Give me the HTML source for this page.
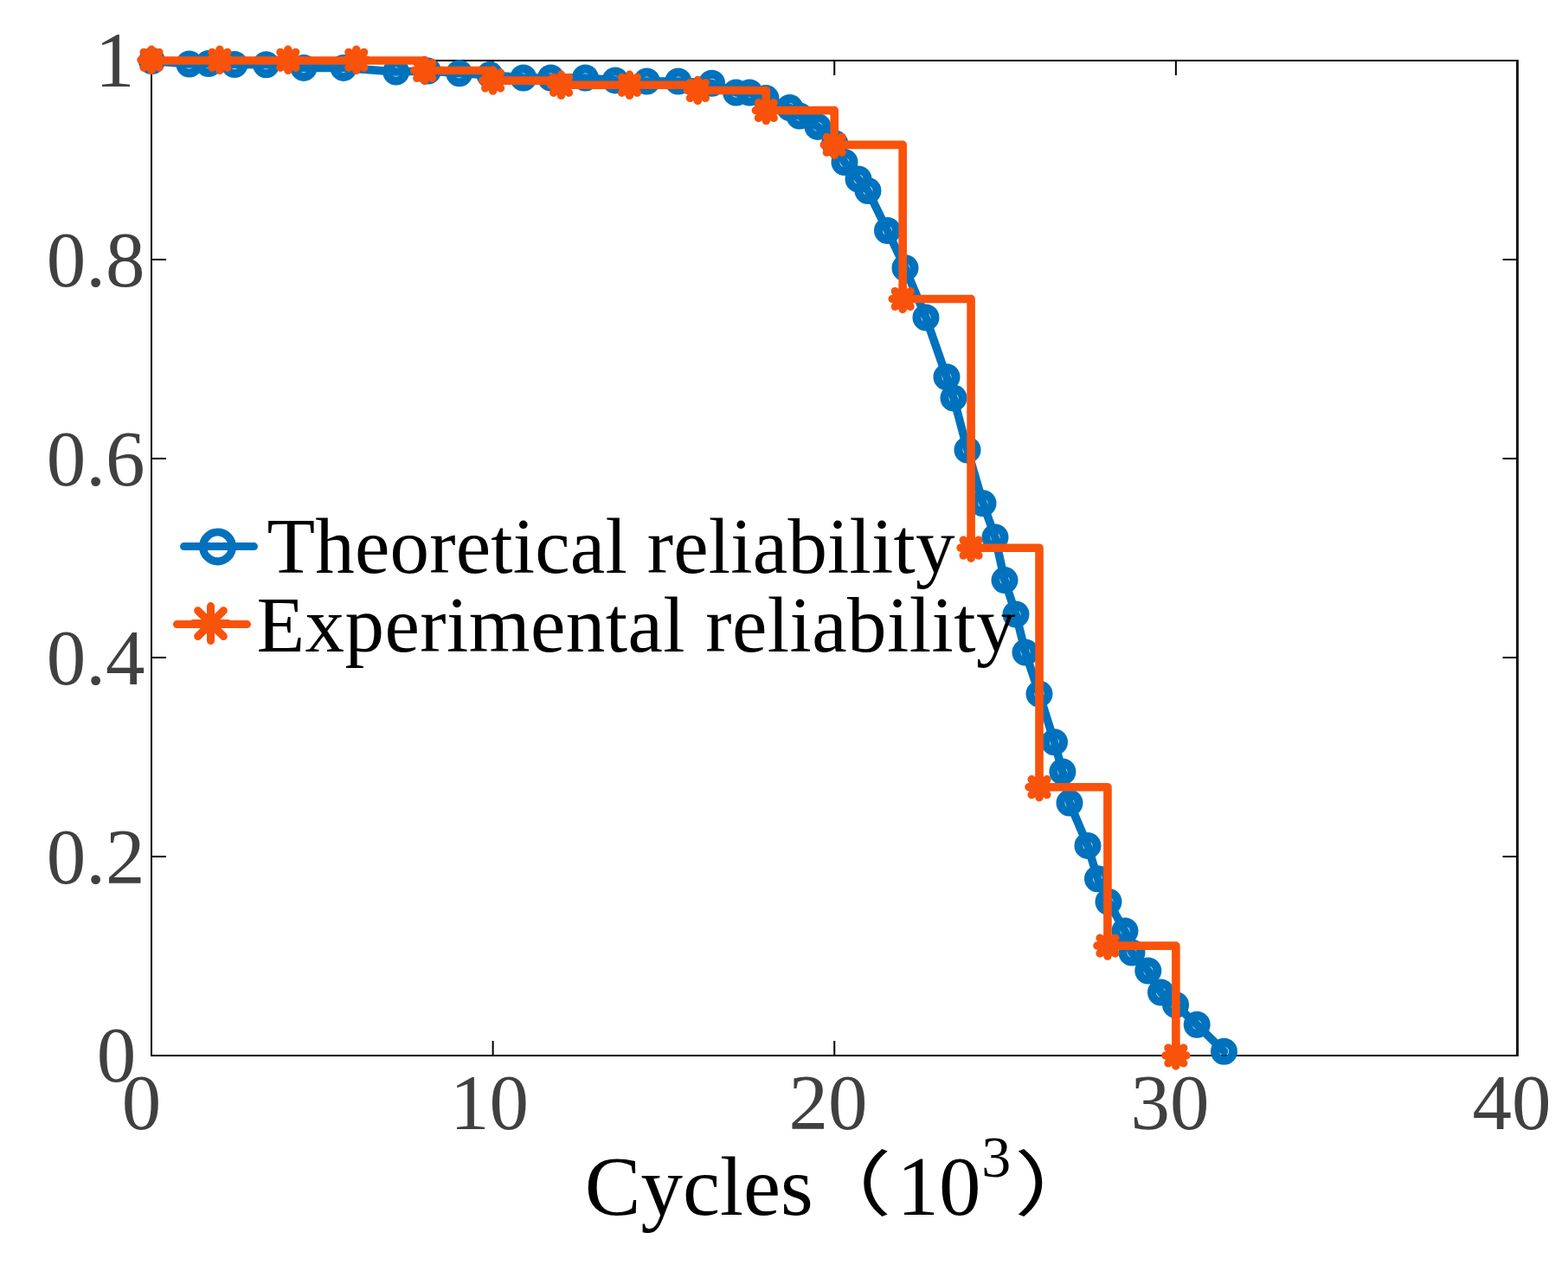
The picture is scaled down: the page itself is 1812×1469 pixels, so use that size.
<!DOCTYPE html>
<html><head><meta charset="utf-8"><title>Reliability</title>
<style>html,body{margin:0;padding:0;background:#fff;overflow:hidden}svg{display:block}</style>
</head><body><svg width="1812" height="1469" viewBox="0 0 1812 1469"><rect x="0" y="0" width="1812" height="1469" fill="#fff"/><path d="M174.0 70.0H1753.5M175.0 69.0V1221.0M174.0 1220.0H1754.5" stroke="#000000" stroke-width="2" fill="none"/><path d="M1753.5 69.0V1221.0" stroke="#1a1a1a" stroke-width="3" fill="none"/><path d="M175.0 990h17M1753.5 990h-17M175.0 760h17M1753.5 760h-17M175.0 530h17M1753.5 530h-17M175.0 300h17M1753.5 300h-17M569.62 1220.0v-17M569.62 70.0v17M964.25 1220.0v-17M964.25 70.0v17M1358.88 1220.0v-17M1358.88 70.0v17" stroke="#000000" stroke-width="2" fill="none"/><polyline points="175.5,70.5 218.8,74 241,73.5 271,74.5 307.6,74.8 351,78.4 397,78.4 457.7,83 494.4,82 530.8,84.8 566,86.6 604.8,90 636.5,90 676.4,90 711,92.9 747.4,94 783.8,94 822.6,96.2 850.6,107 866.2,107 885,113.6 912.6,124.5 924,134 945,146.4 964.7,165.7 976,187.5 992,207 1003,220.5 1025.5,266.5 1046,309.8 1070,367 1094,435.8 1102,460 1118,520 1136,581.7 1150,621 1161,670.6 1174,710 1185,754 1201,802 1218.5,857.8 1227.9,891.9 1236,928 1257,977.4 1268.5,1015.7 1281,1042.3 1300,1076 1308,1101 1326.8,1122 1341.5,1147 1358.6,1161.4 1383.2,1184.3 1414.5,1215.2" fill="none" stroke="#0072BD" stroke-width="9.6" stroke-linejoin="round" stroke-linecap="round"/><g fill="none" stroke="#0072BD" stroke-width="10"><circle cx="175.5" cy="70.5" r="10.5"/><circle cx="218.8" cy="74" r="10.5"/><circle cx="241" cy="73.5" r="10.5"/><circle cx="271" cy="74.5" r="10.5"/><circle cx="307.6" cy="74.8" r="10.5"/><circle cx="351" cy="78.4" r="10.5"/><circle cx="397" cy="78.4" r="10.5"/><circle cx="457.7" cy="83" r="10.5"/><circle cx="494.4" cy="82" r="10.5"/><circle cx="530.8" cy="84.8" r="10.5"/><circle cx="566" cy="86.6" r="10.5"/><circle cx="604.8" cy="90" r="10.5"/><circle cx="636.5" cy="90" r="10.5"/><circle cx="676.4" cy="90" r="10.5"/><circle cx="711" cy="92.9" r="10.5"/><circle cx="747.4" cy="94" r="10.5"/><circle cx="783.8" cy="94" r="10.5"/><circle cx="822.6" cy="96.2" r="10.5"/><circle cx="850.6" cy="107" r="10.5"/><circle cx="866.2" cy="107" r="10.5"/><circle cx="885" cy="113.6" r="10.5"/><circle cx="912.6" cy="124.5" r="10.5"/><circle cx="924" cy="134" r="10.5"/><circle cx="945" cy="146.4" r="10.5"/><circle cx="964.7" cy="165.7" r="10.5"/><circle cx="976" cy="187.5" r="10.5"/><circle cx="992" cy="207" r="10.5"/><circle cx="1003" cy="220.5" r="10.5"/><circle cx="1025.5" cy="266.5" r="10.5"/><circle cx="1046" cy="309.8" r="10.5"/><circle cx="1070" cy="367" r="10.5"/><circle cx="1094" cy="435.8" r="10.5"/><circle cx="1102" cy="460" r="10.5"/><circle cx="1118" cy="520" r="10.5"/><circle cx="1136" cy="581.7" r="10.5"/><circle cx="1150" cy="621" r="10.5"/><circle cx="1161" cy="670.6" r="10.5"/><circle cx="1174" cy="710" r="10.5"/><circle cx="1185" cy="754" r="10.5"/><circle cx="1201" cy="802" r="10.5"/><circle cx="1218.5" cy="857.8" r="10.5"/><circle cx="1227.9" cy="891.9" r="10.5"/><circle cx="1236" cy="928" r="10.5"/><circle cx="1257" cy="977.4" r="10.5"/><circle cx="1268.5" cy="1015.7" r="10.5"/><circle cx="1281" cy="1042.3" r="10.5"/><circle cx="1300" cy="1076" r="10.5"/><circle cx="1308" cy="1101" r="10.5"/><circle cx="1326.8" cy="1122" r="10.5"/><circle cx="1341.5" cy="1147" r="10.5"/><circle cx="1358.6" cy="1161.4" r="10.5"/><circle cx="1383.2" cy="1184.3" r="10.5"/><circle cx="1414.5" cy="1215.2" r="10.5"/></g><path d="M175 70L253.93 70L253.93 70L332.85 70L332.85 70L411.77 70L411.77 70L490.7 70L490.7 81.5L569.62 81.5L569.62 93.1L648.55 93.1L648.55 98.3L727.48 98.3L727.48 98.3L806.4 98.3L806.4 104.5L885.33 104.5L885.33 127.6L964.25 127.6L964.25 167.4L1043.17 167.4L1043.17 345.5L1122.1 345.5L1122.1 633.2L1201.03 633.2L1201.03 909.7L1279.95 909.7L1279.95 1093.1L1358.88 1093.1L1358.88 1220" fill="none" stroke="#F9520B" stroke-width="9.6" stroke-linejoin="round" stroke-linecap="round"/><path d="M163 69.3L187 69.3M166.16 60.46L183.84 78.14M175 57.3L175 81.3M183.84 60.46L166.16 78.14" stroke="#F9520B" stroke-width="9.5" stroke-linecap="round" fill="none"/><path d="M241.93 69.3L265.93 69.3M245.09 60.46L262.76 78.14M253.93 57.3L253.93 81.3M262.76 60.46L245.09 78.14" stroke="#F9520B" stroke-width="9.5" stroke-linecap="round" fill="none"/><path d="M320.85 69.3L344.85 69.3M324.01 60.46L341.69 78.14M332.85 57.3L332.85 81.3M341.69 60.46L324.01 78.14" stroke="#F9520B" stroke-width="9.5" stroke-linecap="round" fill="none"/><path d="M399.77 69.3L423.77 69.3M402.94 60.46L420.61 78.14M411.77 57.3L411.77 81.3M420.61 60.46L402.94 78.14" stroke="#F9520B" stroke-width="9.5" stroke-linecap="round" fill="none"/><path d="M478.7 81.5L502.7 81.5M481.86 72.66L499.54 90.34M490.7 69.5L490.7 93.5M499.54 72.66L481.86 90.34" stroke="#F9520B" stroke-width="9.5" stroke-linecap="round" fill="none"/><path d="M557.62 93.1L581.62 93.1M560.79 84.26L578.46 101.94M569.62 81.1L569.62 105.1M578.46 84.26L560.79 101.94" stroke="#F9520B" stroke-width="9.5" stroke-linecap="round" fill="none"/><path d="M636.55 98.3L660.55 98.3M639.71 89.46L657.39 107.14M648.55 86.3L648.55 110.3M657.39 89.46L639.71 107.14" stroke="#F9520B" stroke-width="9.5" stroke-linecap="round" fill="none"/><path d="M715.48 98.3L739.48 98.3M718.64 89.46L736.31 107.14M727.48 86.3L727.48 110.3M736.31 89.46L718.64 107.14" stroke="#F9520B" stroke-width="9.5" stroke-linecap="round" fill="none"/><path d="M794.4 104.5L818.4 104.5M797.56 95.66L815.24 113.34M806.4 92.5L806.4 116.5M815.24 95.66L797.56 113.34" stroke="#F9520B" stroke-width="9.5" stroke-linecap="round" fill="none"/><path d="M873.33 127.6L897.33 127.6M876.49 118.76L894.16 136.44M885.33 115.6L885.33 139.6M894.16 118.76L876.49 136.44" stroke="#F9520B" stroke-width="9.5" stroke-linecap="round" fill="none"/><path d="M952.25 167.4L976.25 167.4M955.41 158.56L973.09 176.24M964.25 155.4L964.25 179.4M973.09 158.56L955.41 176.24" stroke="#F9520B" stroke-width="9.5" stroke-linecap="round" fill="none"/><path d="M1031.17 345.5L1055.17 345.5M1034.34 336.66L1052.01 354.34M1043.17 333.5L1043.17 357.5M1052.01 336.66L1034.34 354.34" stroke="#F9520B" stroke-width="9.5" stroke-linecap="round" fill="none"/><path d="M1110.1 633.2L1134.1 633.2M1113.26 624.36L1130.94 642.04M1122.1 621.2L1122.1 645.2M1130.94 624.36L1113.26 642.04" stroke="#F9520B" stroke-width="9.5" stroke-linecap="round" fill="none"/><path d="M1189.03 909.7L1213.03 909.7M1192.19 900.86L1209.86 918.54M1201.03 897.7L1201.03 921.7M1209.86 900.86L1192.19 918.54" stroke="#F9520B" stroke-width="9.5" stroke-linecap="round" fill="none"/><path d="M1267.95 1093.1L1291.95 1093.1M1271.11 1084.26L1288.79 1101.94M1279.95 1081.1L1279.95 1105.1M1288.79 1084.26L1271.11 1101.94" stroke="#F9520B" stroke-width="9.5" stroke-linecap="round" fill="none"/><path d="M1346.88 1220L1370.88 1220M1350.04 1211.16L1367.71 1228.84M1358.88 1208L1358.88 1232M1367.71 1211.16L1350.04 1228.84" stroke="#F9520B" stroke-width="9.5" stroke-linecap="round" fill="none"/><g font-family="'Liberation Serif', 'Times New Roman', serif" font-size="91" fill="#404040"><text x="109.9" y="99.9">1</text><text x="53.8" y="330.9">0.8</text><text x="53.8" y="560.9">0.6</text><text x="53.8" y="790.9">0.4</text><text x="53.8" y="1020.9">0.2</text><text x="111.8" y="1250">0</text><text x="140.85" y="1305">0</text><text x="519.9" y="1305">10</text><text x="911.4" y="1305">20</text><text x="1306.5" y="1305">30</text><text x="1701.5" y="1305">40</text></g><g><path d="M212.5 631.6H293.5" stroke="#0072BD" stroke-width="9" stroke-linecap="round"/><circle cx="251.5" cy="631.9" r="16.9" fill="none" stroke="#0072BD" stroke-width="9.2"/><path d="M204.4 721.6H285.5" stroke="#F9520B" stroke-width="9" stroke-linecap="round"/><path d="M223.5 720.6L263.5 720.6M228.65 705.75L258.35 735.45M243.5 700.6L243.5 740.6M258.35 705.75L228.65 735.45" stroke="#F9520B" stroke-width="9.0" stroke-linecap="round" fill="none"/></g><g font-family="'Liberation Serif', 'Times New Roman', serif" font-size="91" fill="#000"><text x="308.5" y="661.8" textLength="795" lengthAdjust="spacing">Theoretical reliability</text><text x="296.5" y="752.6" textLength="877" lengthAdjust="spacing">Experimental reliability</text></g><g fill="#000"><text font-family="'Liberation Serif', 'Times New Roman', serif" font-size="97"><tspan x="675.8" y="1404.3">Cycles</tspan><tspan x="1036.5" y="1404.3">10</tspan><tspan x="1134.3" y="1360" font-size="68">3</tspan></text><text transform="translate(924.8 1397.7) scale(1.29 1)" font-family="'Liberation Serif', 'Noto Sans CJK SC', sans-serif" font-size="82">（</text><text transform="translate(1172 1397.7) scale(1.29 1)" font-family="'Liberation Serif', 'Noto Sans CJK SC', sans-serif" font-size="82">）</text></g></svg></body></html>
